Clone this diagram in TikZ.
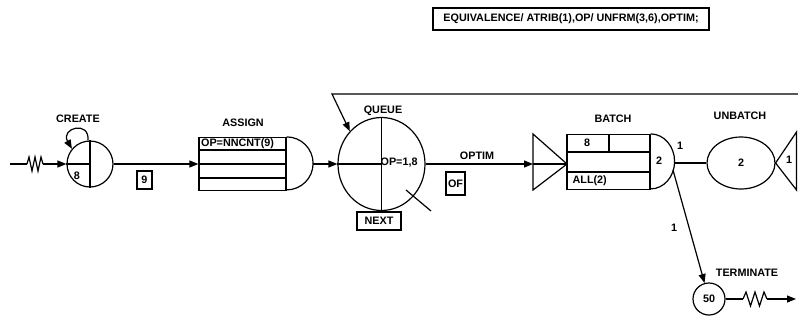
\documentclass[tikz,border=0pt]{standalone}
\usepackage{fontspec}
\setmainfont{Liberation Sans}
\usetikzlibrary{arrows.meta, shapes.geometric}

\begin{document}
\begin{tikzpicture}[
    x=1pt, y=-1pt,
    every node/.style={font=\fontsize{10.8}{13}\selectfont\bfseries, inner sep=0pt},
    line width=1.2pt,
    >={Triangle[length=9pt,width=7pt]},
    flow/.style={->, line width=1.2pt},
    tagbox/.style={draw, line width=1.2pt},
    wiggle/.pic={
        \draw (0,0) -- (2,-7) -- (5,7) -- (8,-7) -- (11,7) -- (14,-7) -- (16,0);
    },
]
\useasboundingbox (0,0) rectangle (798,322);

% === Header statement ===
\node[tagbox, line width=1.5pt, minimum width=276, minimum height=22] (equiv) at (571,19)
    {EQUIVALENCE/ ATRIB(1),OP/ UNFRM(3,6),OPTIM;};

% === CREATE ===
\node[draw, circle, minimum size=46] (create) at (90,164) {};
\draw (create.north) -- (create.south);
\draw (create.west) -- (create.center);
\node (createnum) at (77,176) {8};
\node (createlbl) at (78,119) {CREATE};
% self loop
\draw[flow] (create.95) .. controls (90,120) and (60,128) .. (create.140);

% arrivals
\coordinate (in0) at (10,164);
\coordinate (in1) at (27,164);
\coordinate (in2) at (43,164);
\draw (in0) -- (in1);
\pic at (in1) {wiggle};
\draw[flow] (in2) -- (create.west);

% === ASSIGN ===
\node[draw, minimum width=87, minimum height=53] (assign) at (242.5,164) {};
\foreach \yy in {150,164,178} {
    \draw (199,\yy) -- (286,\yy);
}
\draw (assign.north east) arc[start angle=90, end angle=-90, radius=26.5pt];
\coordinate (assignout) at (312.5,164);
\node[anchor=west] (assignop) at (200.5,144) {OP=NNCNT(9)};
\node (assignlbl) at (243,123) {ASSIGN};

\draw[flow] (create.east) -- (assign.west);
\node[tagbox, minimum width=15, minimum height=18] (tag9) at (144.5,180) {9};

% === QUEUE ===
\node[draw, ellipse, minimum width=87, minimum height=93] (queue) at (381.5,164) {};
\draw (queue.north) -- (queue.south);
\draw (queue.west) -- (queue.center);
\node[anchor=west] (queueop) at (380,163) {OP=1,8};
\node (queuelbl) at (383,111) {QUEUE};
\node[tagbox, minimum width=44, minimum height=18] (next) at (379,221) {NEXT};
% balk
\coordinate (balk0) at (406,190);
\coordinate (balk1) at (431,211);
\draw (balk0) -- (balk1);

\draw[flow] (assignout) -- (queue.west);

% feedback from the right
\coordinate (fb0) at (798,94);
\coordinate (fb1) at (332,94);
\draw[flow] (fb0) -- (fb1) -- (queue.134);

% === OPTIM activity ===
\coordinate (batchin) at (533,164);
\coordinate (batchtip) at (567,164);
\draw[flow] (queue.east) -- (batchin);
\draw (batchin) -- (batchtip);
\node (optimlbl) at (477,156) {OPTIM};
\node[tagbox, minimum width=19, minimum height=23] (optimtag) at (455.5,183.5) {OF};

% === BATCH ===
\draw (533,134) -- (batchtip) -- (533,190) -- cycle;
\node[draw, minimum width=83, minimum height=55] (batch) at (608.5,162) {};
\draw (567,152) -- (650,152);
\draw (567,172) -- (650,172);
\draw (609,134.5) -- (609,152);
\draw (batch.north east) arc[start angle=90, end angle=-90, x radius=24pt, y radius=27.5pt];
\node (batchnum) at (587,143) {8};
\node[anchor=west] (batchall) at (572,181) {ALL(2)};
\node (batchsz) at (659,161) {2};
\node (batchlbl) at (613,119) {BATCH};
\node (batchone) at (680,146) {1};
\coordinate (batchout) at (674,163);
\coordinate (batchlow) at (673,170);

% === UNBATCH ===
\node[draw, ellipse, minimum width=68, minimum height=52] (unbatch) at (741,163) {2};
\node (unbatchlbl) at (740,116) {UNBATCH};
\draw (batchout) -- (unbatch.west);
\draw (796.5,132) -- (unbatch.east) -- (796.5,190) -- cycle;
\node (unbatchone) at (789,160) {1};

% === TERMINATE ===
\node[draw, circle, minimum size=32] (term) at (709,299) {50};
\node (termlbl) at (747,273) {TERMINATE};
\draw[flow] (batchlow) -- (term);
\node (termone) at (674,228) {1};

% departures
\coordinate (out1) at (743,299);
\coordinate (out2) at (767,299);
\coordinate (out3) at (796,299);
\draw (term.east) -- (out1);
\pic[xscale=1.5] at (out1) {wiggle};
\draw[flow] (out2) -- (out3);

\end{tikzpicture}
\end{document}
